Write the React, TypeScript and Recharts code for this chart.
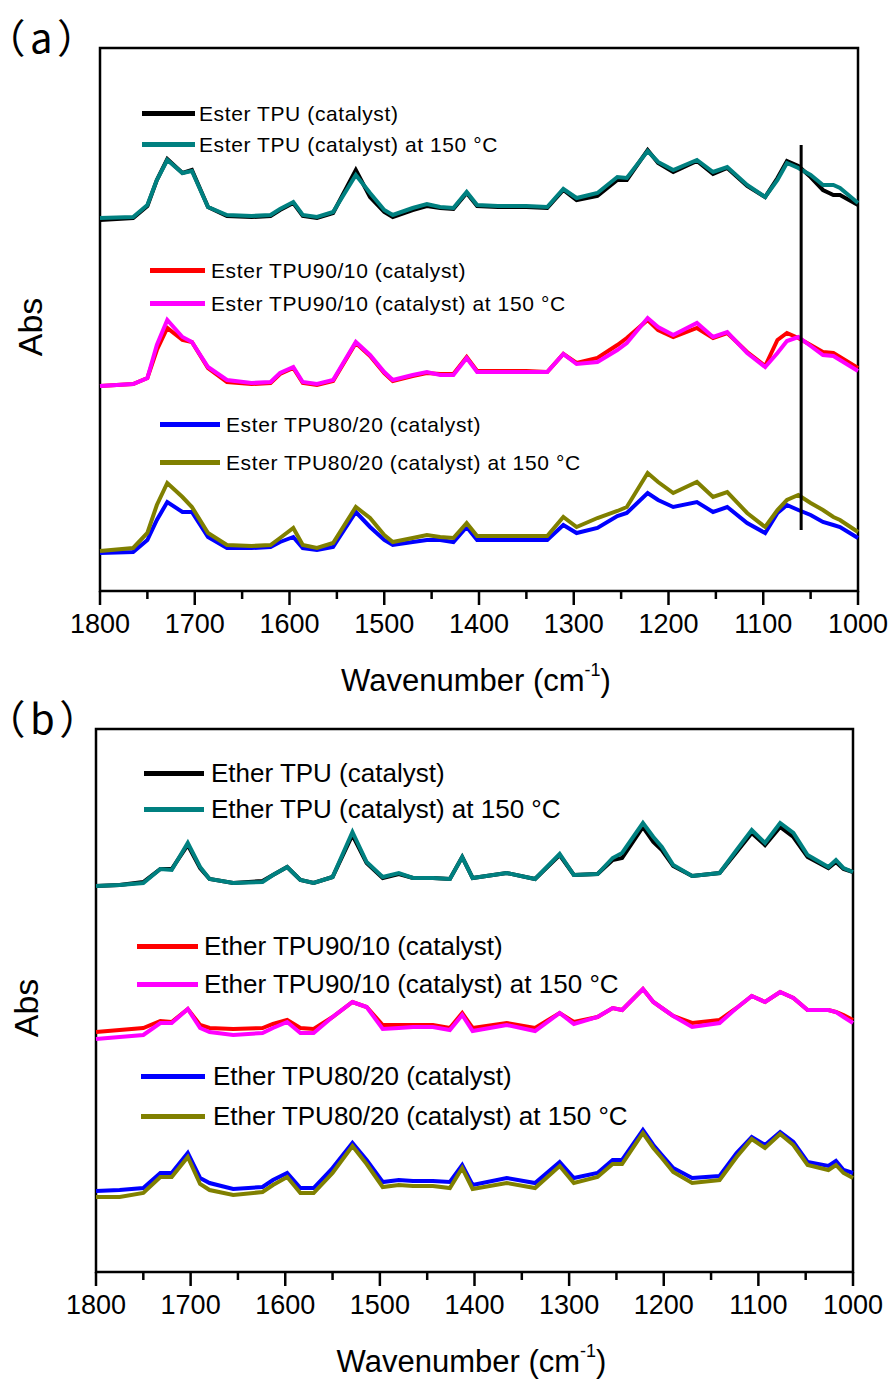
import React from "react";
import { LineChart, Line, XAxis, YAxis, ReferenceArea, ReferenceLine } from "recharts";

const W = 893;
const PANEL_H = 700;
const Y_MAX = 2.715;
const FONT = '"Liberation Sans", Arial, sans-serif';

// wavenumber ticks every 50 cm-1, labels every 100
const xTicks = [1800, 1750, 1700, 1650, 1600, 1550, 1500, 1450, 1400, 1350, 1300, 1250, 1200, 1150, 1100, 1050, 1000];

/* ---------- (a) ester TPU spectra ---------- */
const esterWn = [
  1800, 1765, 1750, 1740, 1729, 1713, 1703, 1686, 1666, 1640,
  1620, 1610, 1596, 1586, 1571, 1554, 1530, 1515, 1500, 1491,
  1470, 1455, 1441, 1427, 1413, 1402, 1380, 1350, 1328, 1311,
  1297, 1275, 1254, 1244, 1222, 1211, 1195, 1170, 1153, 1138,
  1117, 1098, 1085, 1075, 1063, 1050, 1037, 1026, 1019, 1000,
];
const esterTPU = [
  1.855, 1.865, 1.925, 2.055, 2.16, 2.09, 2.105, 1.92, 1.875, 1.87,
  1.875, 1.905, 1.94, 1.875, 1.865, 1.89, 2.105, 1.97, 1.895, 1.87,
  1.905, 1.925, 1.915, 1.91, 1.99, 1.925, 1.92, 1.92, 1.915, 2.005,
  1.955, 1.975, 2.055, 2.055, 2.205, 2.14, 2.095, 2.15, 2.085, 2.115,
  2.025, 1.97, 2.065, 2.15, 2.125, 2.07, 2.005, 1.98, 1.98, 1.93,
];
const esterTPU150 = [
  1.865, 1.87, 1.93, 2.055, 2.155, 2.09, 2.1, 1.92, 1.88, 1.875,
  1.88, 1.91, 1.945, 1.88, 1.87, 1.895, 2.08, 1.99, 1.905, 1.88,
  1.915, 1.935, 1.92, 1.915, 1.995, 1.93, 1.925, 1.925, 1.92, 2.01,
  1.965, 1.99, 2.07, 2.065, 2.2, 2.145, 2.105, 2.155, 2.095, 2.12,
  2.03, 1.97, 2.055, 2.14, 2.115, 2.08, 2.03, 2.03, 2.015, 1.94,
];
const ester9010 = [
  1.025, 1.035, 1.065, 1.205, 1.315, 1.255, 1.245, 1.115, 1.045, 1.035,
  1.04, 1.085, 1.115, 1.04, 1.03, 1.05, 1.24, 1.175, 1.09, 1.05,
  1.075, 1.09, 1.085, 1.085, 1.17, 1.1, 1.1, 1.1, 1.095, 1.185,
  1.14, 1.165, 1.23, 1.265, 1.355, 1.305, 1.27, 1.315, 1.265, 1.29,
  1.195, 1.125, 1.255, 1.29, 1.265, 1.23, 1.195, 1.19, 1.17, 1.115,
];
const ester9010_150 = [
  1.025, 1.035, 1.065, 1.23, 1.355, 1.27, 1.245, 1.12, 1.055, 1.04,
  1.045, 1.09, 1.12, 1.045, 1.035, 1.055, 1.245, 1.18, 1.095, 1.055,
  1.08, 1.095, 1.08, 1.08, 1.165, 1.095, 1.095, 1.095, 1.095, 1.185,
  1.135, 1.145, 1.205, 1.24, 1.365, 1.32, 1.28, 1.34, 1.27, 1.295,
  1.19, 1.12, 1.19, 1.25, 1.27, 1.225, 1.18, 1.175, 1.155, 1.1,
];
const ester8020 = [
  0.19, 0.195, 0.255, 0.355, 0.445, 0.395, 0.395, 0.27, 0.215, 0.215,
  0.22, 0.245, 0.27, 0.215, 0.205, 0.22, 0.395, 0.32, 0.255, 0.23,
  0.245, 0.255, 0.255, 0.245, 0.32, 0.255, 0.255, 0.255, 0.255, 0.33,
  0.29, 0.315, 0.375, 0.39, 0.49, 0.455, 0.42, 0.445, 0.395, 0.42,
  0.34, 0.29, 0.39, 0.43, 0.405, 0.38, 0.345, 0.33, 0.32, 0.265,
];
const ester8020_150 = [
  0.2, 0.215, 0.29, 0.43, 0.54, 0.47, 0.42, 0.29, 0.23, 0.225,
  0.23, 0.265, 0.315, 0.23, 0.215, 0.24, 0.42, 0.365, 0.28, 0.245,
  0.265, 0.28, 0.27, 0.265, 0.34, 0.275, 0.275, 0.275, 0.275, 0.37,
  0.32, 0.365, 0.4, 0.42, 0.59, 0.545, 0.49, 0.545, 0.47, 0.495,
  0.39, 0.32, 0.405, 0.455, 0.48, 0.44, 0.405, 0.37, 0.355, 0.295,
];

/* ---------- (b) ether TPU spectra ---------- */
const etherWn = [
  1800, 1775, 1750, 1732, 1720, 1703, 1690, 1680, 1655, 1624,
  1613, 1598, 1584, 1570, 1550, 1529, 1514, 1497, 1480, 1465,
  1444, 1426, 1413, 1402, 1366, 1336, 1310, 1295, 1270, 1254,
  1244, 1222, 1211, 1202, 1190, 1170, 1141, 1123, 1107, 1093,
  1077, 1063, 1048, 1026, 1018, 1010, 1000,
];
const etherTPU = [
  1.93, 1.935, 1.95, 2.015, 2.015, 2.135, 2.02, 1.965, 1.945, 1.955,
  1.985, 2.025, 1.96, 1.945, 1.975, 2.185, 2.045, 1.97, 1.99, 1.97,
  1.97, 1.965, 2.075, 1.97, 1.995, 1.965, 2.085, 1.985, 1.99, 2.06,
  2.07, 2.225, 2.15, 2.11, 2.03, 1.98, 1.995, 2.1, 2.195, 2.135,
  2.225, 2.175, 2.075, 2.02, 2.05, 2.015, 2.0,
];
const etherTPU150 = [
  1.93, 1.935, 1.945, 2.015, 2.01, 2.145, 2.025, 1.965, 1.945, 1.95,
  1.985, 2.025, 1.96, 1.945, 1.975, 2.2, 2.05, 1.975, 1.995, 1.97,
  1.97, 1.965, 2.075, 1.97, 1.995, 1.965, 2.09, 1.985, 1.99, 2.07,
  2.095, 2.245, 2.175, 2.125, 2.035, 1.98, 1.995, 2.11, 2.21, 2.145,
  2.245, 2.195, 2.085, 2.025, 2.06, 2.02, 2.0,
];
const ether9010 = [
  1.2, 1.21, 1.22, 1.255, 1.25, 1.315, 1.235, 1.22, 1.215, 1.22,
  1.24, 1.26, 1.22, 1.215, 1.275, 1.35, 1.325, 1.235, 1.235, 1.235,
  1.235, 1.22, 1.295, 1.22, 1.245, 1.22, 1.295, 1.25, 1.275, 1.32,
  1.31, 1.415, 1.35, 1.32, 1.28, 1.245, 1.26, 1.32, 1.38, 1.35,
  1.4, 1.37, 1.31, 1.31, 1.3, 1.285, 1.26,
];
const ether9010_150 = [
  1.165, 1.175, 1.185, 1.245, 1.245, 1.315, 1.22, 1.2, 1.185, 1.195,
  1.22, 1.25, 1.195, 1.195, 1.275, 1.35, 1.325, 1.215, 1.22, 1.225,
  1.225, 1.21, 1.285, 1.205, 1.235, 1.205, 1.295, 1.24, 1.275, 1.32,
  1.31, 1.415, 1.35, 1.32, 1.28, 1.225, 1.245, 1.32, 1.38, 1.35,
  1.4, 1.37, 1.31, 1.31, 1.3, 1.275, 1.245,
];
const ether8020 = [
  0.405, 0.41, 0.42, 0.495, 0.495, 0.595, 0.47, 0.445, 0.415, 0.425,
  0.46, 0.495, 0.42, 0.42, 0.52, 0.645, 0.56, 0.45, 0.46, 0.455,
  0.455, 0.45, 0.535, 0.435, 0.47, 0.445, 0.55, 0.47, 0.495, 0.56,
  0.56, 0.71, 0.635, 0.585, 0.52, 0.47, 0.48, 0.595, 0.675, 0.635,
  0.7, 0.65, 0.55, 0.53, 0.555, 0.51, 0.495,
];
const ether8020_150 = [
  0.375, 0.375, 0.395, 0.475, 0.475, 0.575, 0.44, 0.41, 0.385, 0.4,
  0.435, 0.475, 0.395, 0.395, 0.495, 0.63, 0.54, 0.425, 0.435, 0.43,
  0.43, 0.42, 0.52, 0.415, 0.445, 0.42, 0.53, 0.445, 0.475, 0.54,
  0.54, 0.695, 0.62, 0.57, 0.5, 0.445, 0.46, 0.575, 0.665, 0.62,
  0.69, 0.635, 0.535, 0.51, 0.535, 0.495, 0.47,
];

const colors = ["#000000", "#008080", "#FF0000", "#FF00FF", "#0000FF", "#808000"];

const esterNames = [
  "Ester TPU (catalyst)",
  "Ester TPU (catalyst) at 150 °C",
  "Ester TPU90/10 (catalyst)",
  "Ester TPU90/10 (catalyst) at 150 °C",
  "Ester TPU80/20 (catalyst)",
  "Ester TPU80/20 (catalyst) at 150 °C",
];
const etherNames = [
  "Ether TPU (catalyst)",
  "Ether TPU (catalyst) at 150 °C",
  "Ether TPU90/10 (catalyst)",
  "Ether TPU90/10 (catalyst) at 150 °C",
  "Ether TPU80/20 (catalyst)",
  "Ether TPU80/20 (catalyst) at 150 °C",
];

const esterRows = esterWn.map((wn, i) => ({
  wn,
  s0: esterTPU[i], s1: esterTPU150[i],
  s2: ester9010[i], s3: ester9010_150[i],
  s4: ester8020[i], s5: ester8020_150[i],
}));
const etherRows = etherWn.map((wn, i) => ({
  wn,
  s0: etherTPU[i], s1: etherTPU150[i],
  s2: ether9010[i], s3: ether9010_150[i],
  s4: ether8020[i], s5: ether8020_150[i],
}));

// legend placement inside each panel (panel coords): line start/end, centre y, text start
const esterLegendPos = [
  { x1: 142, x2: 195, y: 113, tx: 199 },
  { x1: 142, x2: 195, y: 144, tx: 199 },
  { x1: 150, x2: 205, y: 270, tx: 211 },
  { x1: 150, x2: 205, y: 303, tx: 211 },
  { x1: 160, x2: 220, y: 424, tx: 226 },
  { x1: 160, x2: 220, y: 462, tx: 226 },
];
const etherLegendPos = [
  { x1: 144, x2: 204, y: 92, tx: 211 },
  { x1: 144, x2: 204, y: 128, tx: 211 },
  { x1: 137, x2: 198, y: 265, tx: 204 },
  { x1: 137, x2: 198, y: 303, tx: 204 },
  { x1: 141, x2: 205, y: 395, tx: 213 },
  { x1: 141, x2: 205, y: 435, tx: 213 },
];

const WnTick = (props: any) => {
  const { x, y, payload } = props;
  const major = payload.value % 100 === 0;
  return (
    <g>
      <line x1={x} x2={x} y1={y} y2={y + (major ? 14 : 8)} stroke="#000" strokeWidth={2.5} />
      {major && (
        <text x={x} y={y + 42} textAnchor="middle" fontSize={27} fontFamily={FONT} fill="#000">
          {payload.value}
        </text>
      )}
    </g>
  );
};

type PanelProps = {
  top: number;
  plotLeft: number;
  plotRight: number;
  rows: any[];
  names: string[];
  legendPos: { x1: number; x2: number; y: number; tx: number }[];
  legendFont: number;
  legendSpacing: number;
  tag: string;
  children?: React.ReactNode;
};

const PLOT_TOP = 48;
const PLOT_H = 543;

function Panel({ top, plotLeft, plotRight, rows, names, legendPos, legendFont, legendSpacing, tag, children }: PanelProps) {
  const plotCx = (plotLeft + plotRight) / 2;
  return (
    <div style={{ position: "absolute", left: 0, top, width: W, height: PANEL_H }}>
      <LineChart
        width={W}
        height={PANEL_H}
        data={rows}
        margin={{ top: PLOT_TOP, right: W - plotRight, bottom: 0, left: plotLeft }}
      >
        <XAxis
          dataKey="wn"
          type="number"
          domain={[1000, 1800]}
          reversed
          ticks={xTicks}
          interval={0}
          tickSize={0}
          tickMargin={0}
          axisLine={false}
          tickLine={false}
          tick={WnTick}
          height={PANEL_H - PLOT_TOP - PLOT_H}
        />
        <YAxis type="number" domain={[0, Y_MAX]} hide />
        <ReferenceArea
          x1={1800}
          x2={1000}
          y1={0}
          y2={Y_MAX}
          fill="none"
          stroke="#000"
          strokeWidth={2.5}
          ifOverflow="visible"
        />
        {names.map((n, i) => (
          <Line
            key={n}
            dataKey={`s${i}`}
            name={n}
            type="linear"
            stroke={colors[i]}
            strokeWidth={4}
            dot={false}
            isAnimationActive={false}
          />
        ))}
        {children}
      </LineChart>

      {/* legend */}
      {names.map((n, i) => {
        const p = legendPos[i];
        return (
          <div
            key={n}
            style={{
              position: "absolute",
              left: p.x1,
              top: p.y - 15,
              height: 30,
              display: "flex",
              alignItems: "center",
              whiteSpace: "nowrap",
            }}
          >
            <span style={{ width: p.x2 - p.x1, height: 5, background: colors[i], display: "inline-block" }} />
            <span
              style={{
                marginLeft: p.tx - p.x2,
                fontSize: legendFont,
                letterSpacing: legendSpacing,
                fontFamily: FONT,
                lineHeight: 1,
                color: "#000",
              }}
            >
              {n}
            </span>
          </div>
        );
      })}

      {/* panel tag */}
      <div
        style={{
          position: "absolute",
          left: 4,
          top: 16,
          fontSize: 40,
          lineHeight: 1,
          letterSpacing: 6,
          fontFamily: '"Noto Sans CJK SC", sans-serif',
          fontFeatureSettings: '"palt"',
          color: "#000",
        }}
      >
        {tag}
      </div>

      {/* y label */}
      <div
        style={{
          position: "absolute",
          left: plotLeft - 70,
          top: PLOT_TOP + 279,
          transform: "translate(-50%, -50%) rotate(-90deg)",
          fontSize: 34,
          lineHeight: 1,
          fontFamily: FONT,
          color: "#000",
        }}
      >
        Abs
      </div>

      {/* x label */}
      <div
        style={{
          position: "absolute",
          left: plotCx - 3,
          top: PLOT_TOP + PLOT_H + 100 - 26,
          transform: "translateX(-50%)",
          fontSize: 31,
          lineHeight: 1,
          fontFamily: FONT,
          color: "#000",
          whiteSpace: "nowrap",
        }}
      >
        Wavenumber (cm<span style={{ fontSize: 18, verticalAlign: "top", position: "relative", top: -4 }}>-1</span>)
      </div>
    </div>
  );
}

export default function App() {
  return (
    <div style={{ position: "absolute", left: 0, top: 0, width: W, height: 1381, background: "#fff", overflow: "hidden" }}>
      <Panel
        top={0}
        plotLeft={100}
        plotRight={858}
        rows={esterRows}
        names={esterNames}
        legendPos={esterLegendPos}
        legendFont={21}
        legendSpacing={0.6}
        tag="（a）"
      >
        <ReferenceLine
          segment={[{ x: 1060, y: 2.23 }, { x: 1060, y: 0.305 }]}
          stroke="#000"
          strokeWidth={3}
          ifOverflow="visible"
        />
      </Panel>
      <Panel
        top={681}
        plotLeft={96}
        plotRight={853}
        rows={etherRows}
        names={etherNames}
        legendPos={etherLegendPos}
        legendFont={26}
        legendSpacing={0}
        tag="（b）"
      />
    </div>
  );
}
